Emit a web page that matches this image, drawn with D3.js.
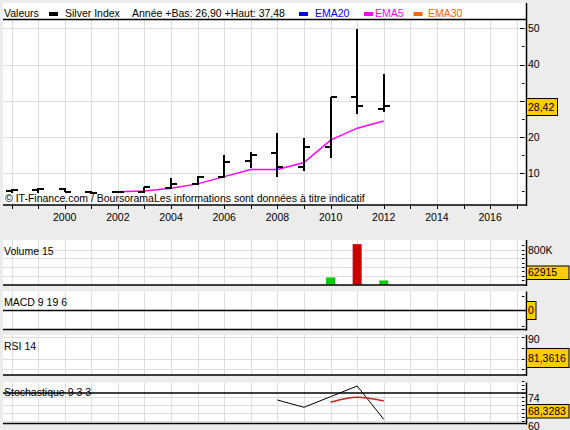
<!DOCTYPE html>
<html><head><meta charset="utf-8">
<script src="https://cdn.jsdelivr.net/npm/d3@7"></script>
<style>
html,body{margin:0;padding:0;background:#ececec;}
svg{display:block;font-family:"Liberation Sans",Arial,sans-serif;font-size:10.5px;}
</style></head><body>
<svg id="c" width="570" height="430"></svg>
<script>
// ---- data ----
const years   = [1998,1999,2000,2001,2002,2003,2004,2005,2006,2007,2008,2009,2010,2011,2012];
const opens   = [5.0, 5.3, 5.6, 4.7, 4.7, 4.7, 5.9, 6.9, 8.9, 13.2,15.5,11.6,17.1,30.9,27.6];
const highs   = [5.5, 5.9, 5.8, 4.9, 5.0, 6.2, 8.5, 9.1, 15.0,15.8,21.0,19.6,30.9,49.7,37.48];
const lows    = [4.4, 4.6, 4.7, 4.1, 4.4, 4.4, 5.6, 6.6, 8.5, 11.3,9.0, 10.6,14.1,26.4,26.90];
const closes  = [5.2, 5.6, 4.7, 4.6, 4.8, 6.1, 6.9, 8.9, 13.0,14.9,11.6,17.1,30.9,28.4,28.42];
const ema5Years = [2002,2003,2004,2005,2006,2007,2008,2009,2010,2011,2012];
const ema5      = [4.85,5.0, 5.8, 7.0, 9.0, 11.0,11.0,12.9,19.1,22.4,24.4];
const volYears  = [2010,2011,2012];
const volumes   = [161000,922000,92000];
const lastVolumeLabel = "62915";
const rsiLabel = "81,3616";
const stochKYears = [2008,2009,2010,2011,2012];
const stochK      = [72.5,68.85,74.15,79.5,62.85];
const stochDYears = [2010,2011,2012];
const stochD      = [71.35,73.85,72.0];
const stochLabel  = "68,3283";
const stochLevel  = 76;
const priceTicks  = [10,20,30,40,50];
const priceMinor  = [5,15,25,35,45];
const yearLabels  = [2000,2002,2004,2006,2008,2010,2012,2014,2016];
const gridYears   = d3.range(1998,2018);
const volTicks    = [100000,200000,300000,400000,500000,600000,700000,800000,900000];
const volGrid     = [200000,400000,600000,800000];
const rsiTicks    = [90,85,80,75];
const rsiGrid     = [90,80,75];
const stochTicks  = [62,64,66,68,70,72,74,76,78,80,82];
const stochGrid   = [74,70,66,62];

// ---- layout ----
const svg = d3.select("#c");
const L = 3, R = 526;
const x = d3.scaleLinear().domain([1997.68, 2017.35]).range([L, R]);
const fmt = v => d3.format(".2f")(v).replace(".", ",");
const GRID = "#dedede";

function panelBase(top, bottom, gridTop) {
  svg.append("rect").attr("x", L).attr("y", top).attr("width", R - L).attr("height", bottom - top).attr("fill", "#fff");
  svg.append("g").selectAll("line").data(gridYears).join("line")
    .attr("x1", d => Math.round(x(d)) + 0.5).attr("x2", d => Math.round(x(d)) + 0.5)
    .attr("y1", gridTop).attr("y2", bottom).attr("stroke", GRID).attr("stroke-width", 1);
}
function hGrid(vals, scale) {
  svg.append("g").selectAll("line").data(vals).join("line")
    .attr("x1", L).attr("x2", R).attr("y1", d => Math.round(scale(d)) + 0.5).attr("y2", d => Math.round(scale(d)) + 0.5)
    .attr("stroke", GRID).attr("stroke-width", 1);
}
function frame(top, bottom) {
  svg.append("line").attr("x1", L).attr("x2", R + 1).attr("y1", bottom).attr("y2", bottom).attr("stroke", "#000").attr("stroke-width", 1.5);
  svg.append("line").attr("x1", R + 0.5).attr("x2", R + 0.5).attr("y1", top).attr("y2", bottom + 1).attr("stroke", "#000").attr("stroke-width", 1.5);
}
function ticks(vals, scale, len) {
  svg.append("g").selectAll("line").data(vals).join("line")
    .attr("x1", 524.5 - len).attr("x2", 524.5).attr("y1", d => Math.round(scale(d)) + 0.5).attr("y2", d => Math.round(scale(d)) + 0.5)
    .attr("stroke", "#000").attr("stroke-width", 1);
}
function box(txt, y0, y1, x1) {
  svg.append("rect").attr("x", 526.5).attr("y", y0).attr("width", x1 - 526.5).attr("height", y1 - y0)
    .attr("fill", "#ffcc00").attr("stroke", "#000").attr("stroke-width", 1);
  svg.append("text").attr("x", 528).attr("y", (y0 + y1) / 2).attr("dy", "0.35em").text(txt);
}
function label(txt, y) {
  svg.append("text").attr("x", 4).attr("y", y).attr("dy", "0.35em").text(txt);
}

// ---- main panel ----
const y = d3.scaleLinear().domain([1.16, 52.45]).range([205, 19.5]);
panelBase(3, 205, 19.5);
hGrid(priceTicks, y);

// legend
const lg = svg.append("g");
lg.append("text").attr("x", 4).attr("y", 16.5).text("Valeurs");
lg.append("rect").attr("x", 49).attr("y", 12).attr("width", 9).attr("height", 4).attr("fill", "#000");
lg.append("text").attr("x", 65).attr("y", 16.5).text("Silver Index");
lg.append("text").attr("x", 132).attr("y", 16.5).text(`Année +Bas: ${fmt(lows[lows.length-1])} +Haut: ${fmt(highs[highs.length-1])}`);
const legItems = [["EMA20", "#0000ff", 299, 315], ["EMA5", "#ff00ff", 364, 375], ["EMA30", "#ff6600", 413.5, 428]];
legItems.forEach(([t, c, rx, tx]) => {
  lg.append("rect").attr("x", rx).attr("y", 12).attr("width", 9).attr("height", 4).attr("fill", c);
  lg.append("text").attr("x", tx).attr("y", 16.5).attr("fill", c).text(t);
});
svg.append("line").attr("x1", L).attr("x2", R).attr("y1", 19.5).attr("y2", 19.5).attr("stroke", "#000").attr("stroke-width", 1.5);

// EMA5 line
svg.append("path").datum(ema5Years.map((yr, i) => [yr, ema5[i]]))
  .attr("d", d3.line().x(d => x(d[0])).y(d => y(d[1])))
  .attr("fill", "none").attr("stroke", "#ff00ff").attr("stroke-width", 1.5);

// OHLC bars
const bars = svg.append("g").attr("stroke", "#000").attr("stroke-width", 2).attr("shape-rendering", "crispEdges");
years.forEach((yr, i) => {
  const cx = Math.round(x(yr));
  bars.append("line").attr("x1", cx).attr("x2", cx).attr("y1", y(highs[i])).attr("y2", y(lows[i]));
  bars.append("line").attr("x1", cx - 6).attr("x2", cx).attr("y1", y(opens[i])).attr("y2", y(opens[i]));
  bars.append("line").attr("x1", cx).attr("x2", cx + 6).attr("y1", y(closes[i])).attr("y2", y(closes[i]));
});

// watermark
svg.append("text").attr("x", 5).attr("y", 202).text("© IT-Finance.com / BoursoramaLes informations sont données à titre indicatif");

frame(3, 205);
// x ticks and labels
svg.append("g").selectAll("line").data(gridYears).join("line")
  .attr("x1", d => Math.round(x(d)) + 0.5).attr("x2", d => Math.round(x(d)) + 0.5)
  .attr("y1", 205).attr("y2", 209).attr("stroke", "#000");
svg.append("g").selectAll("text").data(yearLabels).join("text")
  .attr("x", d => x(d)).attr("y", 220.5).attr("text-anchor", "middle").text(d => d);
ticks(priceTicks, y, 4.5);
ticks(priceMinor, y, 2.5);
const lastClose = closes[closes.length-1];
const boxTop = 98.5, boxBot = 115.5;
// labels hidden behind the current-price box are not drawn (as in the reference)
svg.append("g").selectAll("text").data(priceTicks.filter(d => y(d) < boxTop - 5 || y(d) > boxBot + 5)).join("text")
  .attr("x", 528).attr("y", d => y(d)).attr("dy", "0.35em").text(d => d);
box(fmt(lastClose), boxTop, boxBot, 557.5);

// ---- volume panel ----
const yv = d3.scaleLinear().domain([0, 800000]).range([284.5, 249.5]);
panelBase(240, 285, 240);
hGrid(volGrid, yv);
svg.append("g").selectAll("rect").data(volYears).join("rect")
  .attr("x", d => x(d) - 4.5).attr("width", 9)
  .attr("y", (d, i) => yv(volumes[i])).attr("height", (d, i) => yv(0) - yv(volumes[i]))
  .attr("fill", (d, i) => closes[years.indexOf(d)] >= opens[years.indexOf(d)] ? "#00cc00" : "#cc0000");
label("Volume 15", 251);
frame(240, 285);
ticks(volTicks, yv, 2.5);
svg.append("text").attr("x", 528).attr("y", yv(800000) + 1).attr("dy", "0.35em").text("800K");
box(lastVolumeLabel, 266, 279.5, 569);

// ---- MACD panel ----
panelBase(291.5, 329.5, 291.5);
svg.append("line").attr("x1", L).attr("x2", R).attr("y1", 310.5).attr("y2", 310.5).attr("stroke", "#000").attr("stroke-width", 1.5);
label("MACD 9 19 6", 302);
frame(291.5, 329.5);
ticks([0, 1], d3.scaleLinear().domain([0, 1]).range([325.7, 295.7]), 2.5);
box("0", 301.5, 319.5, 536);

// ---- RSI panel ----
const yr = d3.scaleLinear().domain([75, 90]).range([369.3, 337.3]);
panelBase(335, 375, 335);
hGrid(rsiGrid, yr);
label("RSI 14", 346);
frame(335, 375);
ticks(rsiTicks, yr, 2.5);
svg.append("text").attr("x", 528).attr("y", yr(90) + 2).attr("dy", "0.35em").text("90");
box(rsiLabel, 348.5, 367.5, 569);

// ---- Stochastic panel ----
const ys = d3.scaleLinear().domain([60, 74]).range([425, 397]);
panelBase(382.5, 423.5, 382.5);
hGrid(stochGrid, ys);
svg.append("line").attr("x1", L).attr("x2", R).attr("y1", ys(stochLevel)).attr("y2", ys(stochLevel)).attr("stroke", "#000").attr("stroke-width", 1.5);
label("Stochastique 9 3 3", 392.5);
svg.append("path").datum(stochKYears.map((yy, i) => [yy, stochK[i]]))
  .attr("d", d3.line().x(d => x(d[0])).y(d => ys(d[1])))
  .attr("fill", "none").attr("stroke", "#000").attr("stroke-width", 1);
svg.append("path").datum(stochDYears.map((yy, i) => [yy, stochD[i]]))
  .attr("d", d3.line().curve(d3.curveMonotoneX).x(d => x(d[0])).y(d => ys(d[1])))
  .attr("fill", "none").attr("stroke", "#cc2222").attr("stroke-width", 1.5);
frame(382.5, 423.5);
ticks(stochTicks, ys, 2.5);
svg.append("text").attr("x", 528).attr("y", ys(74) + 1.5).attr("dy", "0.35em").text("74");
svg.append("text").attr("x", 528).attr("y", ys(60) + 1).attr("dy", "0.35em").text("60");
box(stochLabel, 404.5, 418, 569);
</script>
</body></html>
